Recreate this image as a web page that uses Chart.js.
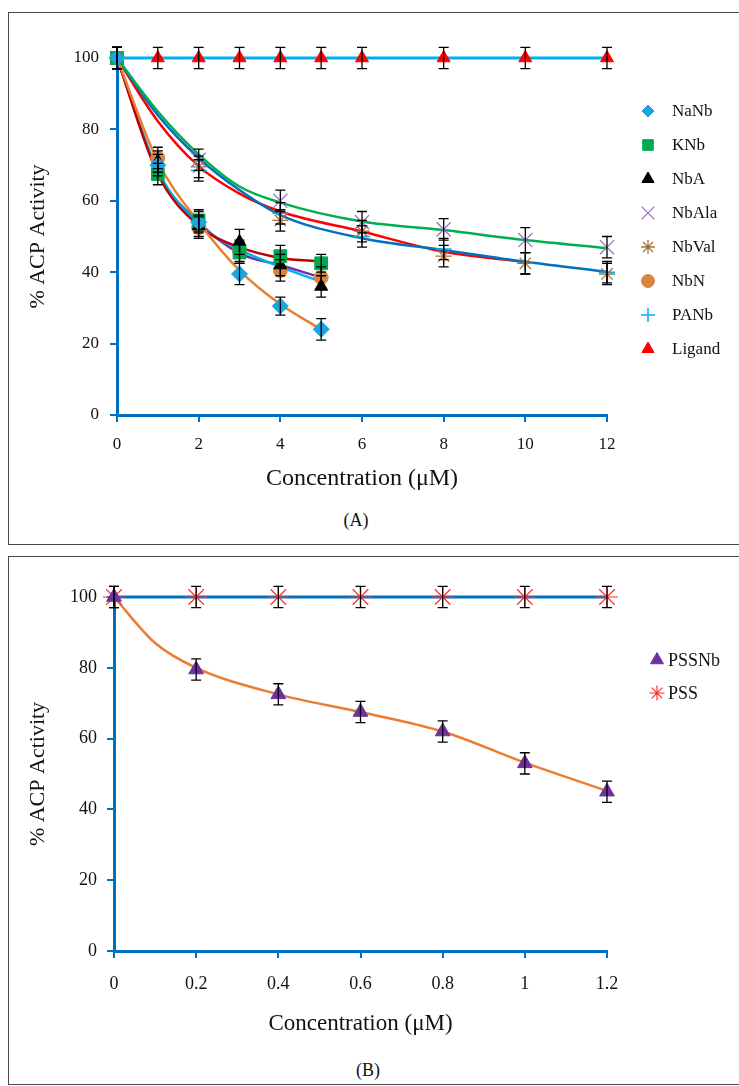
<!DOCTYPE html>
<html>
<head>
<meta charset="utf-8">
<script src="https://cdn.jsdelivr.net/npm/chart.js@4.4.1/dist/chart.umd.min.js"></script>
<style>
  html, body { margin: 0; padding: 0; background: #fff; overflow: hidden; }
  body { width: 739px; height: 1086px; position: relative; font-family: 'Liberation Serif', 'Times New Roman', serif; }
  .panel { position: absolute; left: 8px; width: 800px; border: 1.5px solid #4a4a4a; box-sizing: border-box; }
  .cv { position: absolute; left: 9px; }
  .tag { position: absolute; font-size: 18px; color: #111; transform: translateX(-50%); }
</style>
</head>
<body>
<div class="panel" style="top:12px;height:533px;"></div>
<div class="panel" style="top:556px;height:529px;"></div>
<div class="cv" style="top:13px;width:730px;height:492px;"><canvas id="chartA"></canvas></div>
<div class="cv" style="top:557px;width:730px;height:492px;"><canvas id="chartB"></canvas></div>
<div class="tag" style="left:356px;top:510px;">(A)</div>
<div class="tag" style="left:368px;top:1060px;">(B)</div>
<script>
// ---- panel A data ----
const xNb = [0, 1, 2, 3, 4, 5];
const xAA = [0, 2, 4, 6, 8, 10, 12];
const xLigand = [0, 1, 2, 3, 4, 5, 6, 8, 10, 12];

const naNb = [100, 70, 54, 39.5, 30.5, 24];
const naNbErr = [3, 3, 3, 3, 2.5, 3];
const kNb = [100, 67.5, 54.5, 45.5, 44.5, 42.5];
const kNbErr = [3, 3, 3, 3, 3, 2.5];
const nbA = [100, 71, 53, 48.5, 42, 36];
const nbAErr = [3, 3, 3, 3.5, 3, 3];
const nbAla = [100, 71.5, 60, 54, 52, 49, 47];
const nbAlaErr = [3, 3, 3, 3, 3, 3.5, 3];
const nbVal = [100, 69.5, 54.5, 51.5, 44.5, 42.5, 39.5];
const nbValErr = [3, 3, 3, 3, 3, 3, 3];
const nbN = [100, 72, 52.5, 46, 40.5, 38.5];
const nbNErr = [3, 3, 3, 3, 3, 3];
const paNb = [100, 68.5, 56.5, 50, 46.5, 42.5, 40];
const paNbErr = [3, 3, 3, 3, 3, 3, 3];
const ligand = [100, 100, 100, 100, 100, 100, 100, 100, 100, 100];
const ligandErr = [3, 3, 3, 3, 3, 3, 3, 3, 3, 3];

// fitted curves
const fitXNb = [0, 1, 2, 3, 4, 5];
const fitNaNb = [100, 71, 54, 40.5, 31, 24];
const fitKNb = [100, 67.5, 53, 47, 44, 43];
const fitNbA = [100, 68.5, 53.5, 46.3, 41.5, 37.3];
const fitNbN = [100, 68, 54, 45.3, 42, 38.5];
const fitXAA = [0, 1, 2, 3, 4, 6, 8, 10, 12];
const fitNbAla = [100, 85, 73, 64, 59.5, 54.2, 51.8, 49, 46.7];
const fitPANb = [100, 84, 72, 63, 56, 49.5, 46.2, 42.9, 40.1];
const fitXVal = [0, 1, 2, 3, 4, 6, 8, 10];
const fitNbVal = [100, 82.3, 69.7, 62, 57, 51.4, 45.7, 42.9];
const fitXLigand = [0, 12];
const fitLigand = [100, 100];

// ---- panel B data ----
const xB = [0, 0.2, 0.4, 0.6, 0.8, 1.0, 1.2];
const pssNb = [100, 79.5, 72.5, 67.5, 62, 53, 45];
const pssNbErr = [3, 3, 3, 3, 3, 3, 3];
const pss = [100, 100, 100, 100, 100, 100, 100];
const pssErr = [3, 3, 3, 3, 3, 3, 3];
const fitXB = [0, 0.1, 0.2, 0.4, 0.6, 0.8, 1.0, 1.2];
const fitPssNb = [100, 87, 80, 72.5, 67.5, 62, 53.2, 45.2];
const fitXPss = [0, 1.2];
const fitPss = [100, 100];

const AXIS = '#0070C0';
const FONT = "'Liberation Serif', 'Times New Roman', serif";

function pts(xs, ys) {
  return xs.map((x, i) => ({x: x, y: ys[i]}));
}

function markers(label, xs, ys, errs, style, color, radius, extra) {
  return Object.assign({
    label: label,
    data: pts(xs, ys),
    errors: errs,
    inLegend: true,
    showLine: false,
    pointStyle: style,
    pointRadius: radius,
    pointBackgroundColor: color,
    pointBorderColor: color,
    pointBorderWidth: 1,
    order: 1,
    clip: false
  }, extra || {});
}

function fit(xs, ys, color, width) {
  return {
    label: '',
    data: pts(xs, ys),
    showLine: true,
    borderColor: color,
    borderWidth: width || 2.5,
    pointRadius: 0,
    cubicInterpolationMode: 'monotone',
    order: 2,
    clip: false
  };
}

const errorBars = {
  id: 'errorBars',
  afterDatasetsDraw(chart) {
    const ctx = chart.ctx;
    const ys = chart.scales.y;
    ctx.save();
    ctx.strokeStyle = '#000';
    ctx.lineWidth = 1.3;
    chart.data.datasets.forEach((ds, i) => {
      if (!ds.errors) return;
      chart.getDatasetMeta(i).data.forEach((pt, j) => {
        const v = ds.data[j].y, e = ds.errors[j];
        const top = ys.getPixelForValue(v + e), bot = ys.getPixelForValue(v - e);
        ctx.beginPath();
        ctx.moveTo(pt.x, top); ctx.lineTo(pt.x, bot);
        ctx.moveTo(pt.x - 5, top); ctx.lineTo(pt.x + 5, top);
        ctx.moveTo(pt.x - 5, bot); ctx.lineTo(pt.x + 5, bot);
        ctx.stroke();
      });
    });
    ctx.restore();
  }
};

// legend drawn beside the plot, one row per marker series
const sideLegend = {
  id: 'sideLegend',
  afterDraw(chart, args, opts) {
    const ctx = chart.ctx, area = chart.chartArea;
    ctx.save();
    ctx.font = opts.font;
    ctx.textBaseline = 'middle';
    let y = area.top + opts.top;
    chart.data.datasets.forEach(ds => {
      if (!ds.inLegend) return;
      const mx = area.right + opts.markerX;
      ctx.fillStyle = ds.pointBackgroundColor;
      ctx.strokeStyle = ds.pointBorderColor;
      ctx.lineWidth = ds.pointBorderWidth;
      const r = ds.legendRadius || opts.radius;
      if (Chart.helpers && Chart.helpers.drawPoint) {
        Chart.helpers.drawPoint(ctx, {pointStyle: ds.pointStyle, radius: r, rotation: 0, borderWidth: ds.pointBorderWidth}, mx, y);
      } else {
        ctx.beginPath(); ctx.arc(mx, y, r * 0.7, 0, Math.PI * 2); ctx.fill();
      }
      ctx.fillStyle = '#111';
      ctx.fillText(ds.label, area.right + opts.textX, y + 1);
      y += opts.spacing;
    });
    ctx.restore();
  }
};

function axes(cfg) {
  return {
    x: {
      type: 'linear', min: cfg.xMin, max: cfg.xMax,
      ticks: { stepSize: cfg.xStep, color: '#111', font: {family: FONT, size: cfg.tickSize}, padding: cfg.xTickPad,
        callback: v => String(Math.round(v * 10) / 10) },
      grid: { drawOnChartArea: false, color: AXIS, lineWidth: 2, tickLength: 7 },
      border: { color: AXIS, width: 3 },
      title: { display: true, text: 'Concentration (\u03bcM)', color: '#111',
        font: {family: FONT, size: cfg.xTitleSize}, padding: {top: 0, bottom: cfg.xTitlePad} },
      afterFit: s => { s.height = cfg.xHeight; }
    },
    y: {
      min: 0, max: 100,
      ticks: { stepSize: 20, color: '#111', font: {family: FONT, size: cfg.tickSize}, padding: cfg.yTickPad },
      grid: { drawOnChartArea: false, color: AXIS, lineWidth: 2, tickLength: 7 },
      border: { color: AXIS, width: 3 },
      title: { display: true, text: '% ACP Activity', color: '#111',
        font: {family: FONT, size: cfg.yTitleSize}, padding: {top: cfg.yTitlePad, bottom: 0} },
      afterFit: s => { s.width = cfg.yWidth; }
    }
  };
}

function baseOptions(cfg, legendOpts) {
  return {
    responsive: true,
    maintainAspectRatio: false,
    animation: false,
    events: [],
    layout: { padding: {top: cfg.padTop, right: cfg.padRight, left: 0, bottom: 0} },
    scales: axes(cfg),
    plugins: { legend: {display: false}, tooltip: {enabled: false}, sideLegend: legendOpts }
  };
}

new Chart(document.getElementById('chartA'), {
  type: 'scatter',
  data: {
    datasets: [
      markers('NaNb', xNb, naNb, naNbErr, 'rectRot', '#1FA3DE', 8, {legendRadius: 6}),
      markers('KNb', xNb, kNb, kNbErr, 'rect', '#00A850', 9, {legendRadius: 7.5}),
      markers('NbA', xNb, nbA, nbAErr, 'triangle', '#000000', 7.5, {legendRadius: 7}),
      markers('NbAla', xAA, nbAla, nbAlaErr, 'crossRot', '#9B72CB', 10, {pointBorderWidth: 1.3, legendRadius: 9}),
      markers('NbVal', xAA, nbVal, nbValErr, 'star', '#A8703E', 8, {pointBorderWidth: 1.3, legendRadius: 7}),
      markers('NbN', xNb, nbN, nbNErr, 'circle', '#DA8640', 7, {legendRadius: 6.5}),
      markers('PANb', xAA, paNb, paNbErr, 'cross', '#00B0F0', 8, {pointBorderWidth: 1.5, legendRadius: 7}),
      markers('Ligand', xLigand, ligand, ligandErr, 'triangle', '#FF0000', 7.5, {legendRadius: 7}),
      fit(fitXNb, fitNaNb, '#ED7D31'),
      fit(fitXNb, fitKNb, '#C00000'),
      fit(fitXNb, fitNbA, '#00B0F0'),
      fit(fitXNb, fitNbN, '#7030A0'),
      fit(fitXAA, fitNbAla, '#00B050'),
      fit(fitXAA, fitPANb, '#0070C0'),
      fit(fitXVal, fitNbVal, '#FF0000'),
      fit(fitXLigand, fitLigand, '#00B0F0', 3)
    ]
  },
  options: baseOptions({
    xMin: 0, xMax: 12, xStep: 2, tickSize: 17, xTitleSize: 24, yTitleSize: 22,
    xTickPad: 12, yTickPad: 11, xTitlePad: 12, yTitlePad: 16,
    xHeight: 90, yWidth: 108, padTop: 45, padRight: 132
  }, {font: '17px ' + FONT, top: 53, markerX: 41, textX: 65, spacing: 34, radius: 6}),
  plugins: [errorBars, sideLegend]
});

new Chart(document.getElementById('chartB'), {
  type: 'scatter',
  data: {
    datasets: [
      markers('PSSNb', xB, pssNb, pssNbErr, 'triangle', '#7030A0', 8.5, {legendRadius: 7.5}),
      markers('PSS', xB, pss, pssErr, 'star', '#FF3030', 11, {pointBorderWidth: 1.2, legendRadius: 7.5}),
      fit(fitXB, fitPssNb, '#ED7D31'),
      fit(fitXPss, fitPss, '#0070C0', 3)
    ]
  },
  options: baseOptions({
    xMin: 0, xMax: 1.2, xStep: 0.2, tickSize: 18, xTitleSize: 23, yTitleSize: 22,
    xTickPad: 15, yTickPad: 10, xTitlePad: 11, yTitlePad: 16,
    xHeight: 98, yWidth: 105, padTop: 40, padRight: 132
  }, {font: '18px ' + FONT, top: 63, markerX: 50, textX: 61, spacing: 33, radius: 7}),
  plugins: [errorBars, sideLegend]
});
</script>
</body>
</html>
